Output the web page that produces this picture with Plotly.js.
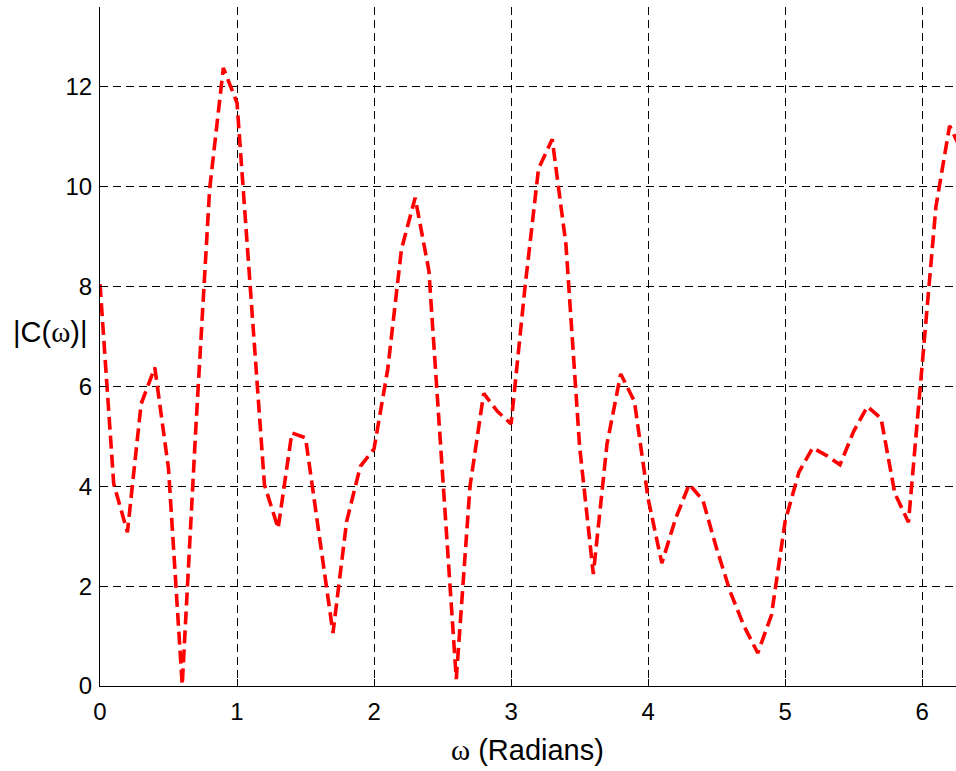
<!DOCTYPE html>
<html>
<head>
<meta charset="utf-8">
<script src="https://cdn.plot.ly/plotly-3.0.1.min.js"></script>
<style>
  html, body { margin: 0; padding: 0; overflow: hidden; background: #fff; width: 956px; height: 771px; }
  #chart { width: 965px; height: 771px; }
</style>
</head>
<body>
<div id="chart"></div>
<script>
// Frequency (radians)
const omega = [0.0, 0.1, 0.2, 0.3, 0.4, 0.5, 0.6, 0.7, 0.8, 0.9,
               1.0, 1.1, 1.2, 1.3, 1.4, 1.5, 1.6, 1.7, 1.8, 1.9,
               2.0, 2.1, 2.2, 2.3, 2.4, 2.5, 2.6, 2.7, 2.8, 2.9,
               3.0, 3.1, 3.2, 3.3, 3.4, 3.5, 3.6, 3.7, 3.8, 3.9,
               4.0, 4.1, 4.2, 4.3, 4.4, 4.5, 4.6, 4.7, 4.8, 4.9,
               5.0, 5.1, 5.2, 5.3, 5.4, 5.5, 5.6, 5.7, 5.8, 5.9,
               6.0, 6.1, 6.2, 6.3];
// |C(omega)|
const magnitude = [8.05, 4.05, 3.08, 5.65, 6.38, 4.35, 0.02, 5.2, 9.95, 12.38,
                   11.68, 7.9, 4.03, 3.16, 5.07, 4.97, 2.95, 1.06, 3.3, 4.4,
                   4.75, 6.35, 8.75, 9.78, 8.32, 4.15, 0.14, 4.0, 5.86, 5.5,
                   5.25, 7.95, 10.36, 10.95, 8.85, 4.8, 2.24, 4.85, 6.25, 5.7,
                   3.75, 2.46, 3.35, 4.04, 3.72, 2.75, 1.88, 1.2, 0.66, 1.42,
                   3.3, 4.28, 4.77, 4.62, 4.43, 5.1, 5.6, 5.36, 3.86, 3.28,
                   6.45, 9.6, 11.22, 10.65];
const xTicks = [0, 1, 2, 3, 4, 5, 6];
const yTicks = [0, 2, 4, 6, 8, 10, 12];
const xTitle = '<span style="font-family:\'Liberation Serif\'">ω</span> (Radians)';
const yTitle = '|C(<span style="font-family:\'Liberation Serif\'">ω</span>)|';

const trace = {
  x: omega,
  y: magnitude,
  type: 'scatter',
  mode: 'lines',
  line: { color: '#ff0000', width: 3.6, dash: '13px,6px' },
  hoverinfo: 'skip'
};

const axisCommon = {
  showline: true,
  linecolor: '#000',
  linewidth: 1,
  ticks: 'inside',
  ticklen: 7,
  tickcolor: '#000',
  tickwidth: 1,
  showgrid: true,
  gridcolor: '#000',
  gridwidth: 1,
  griddash: '8px,5px',
  zeroline: false,
  tickfont: { family: 'Liberation Sans, Arial, sans-serif', size: 24, color: '#000' },
  mirror: false
};

const layout = {
  width: 965,
  height: 771,
  margin: { l: 100, r: 4, t: 7, b: 85 },
  paper_bgcolor: '#fff',
  plot_bgcolor: '#fff',
  showlegend: false,
  xaxis: Object.assign({}, axisCommon, {
    range: [0, 2 * Math.PI],
    tickvals: xTicks,
    ticktext: xTicks.map(String),
    ticklabelstandoff: 4
  }),
  yaxis: Object.assign({}, axisCommon, {
    range: [0, 13.6],
    tickvals: yTicks,
    ticktext: yTicks.map(String),
    ticklabelstandoff: 2
  }),
  annotations: [
    {
      text: xTitle, xref: 'paper', yref: 'paper',
      x: 0.497, y: -0.094, xanchor: 'center', yanchor: 'middle',
      showarrow: false,
      font: { family: 'Liberation Sans, Arial, sans-serif', size: 29, color: '#000' }
    },
    {
      text: yTitle, xref: 'paper', yref: 'paper',
      x: -0.058, y: 0.521, xanchor: 'center', yanchor: 'middle',
      showarrow: false,
      font: { family: 'Liberation Sans, Arial, sans-serif', size: 29, color: '#000' }
    }
  ]
};

Plotly.newPlot('chart', [trace], layout, { displayModeBar: false, staticPlot: true });
</script>
</body>
</html>
